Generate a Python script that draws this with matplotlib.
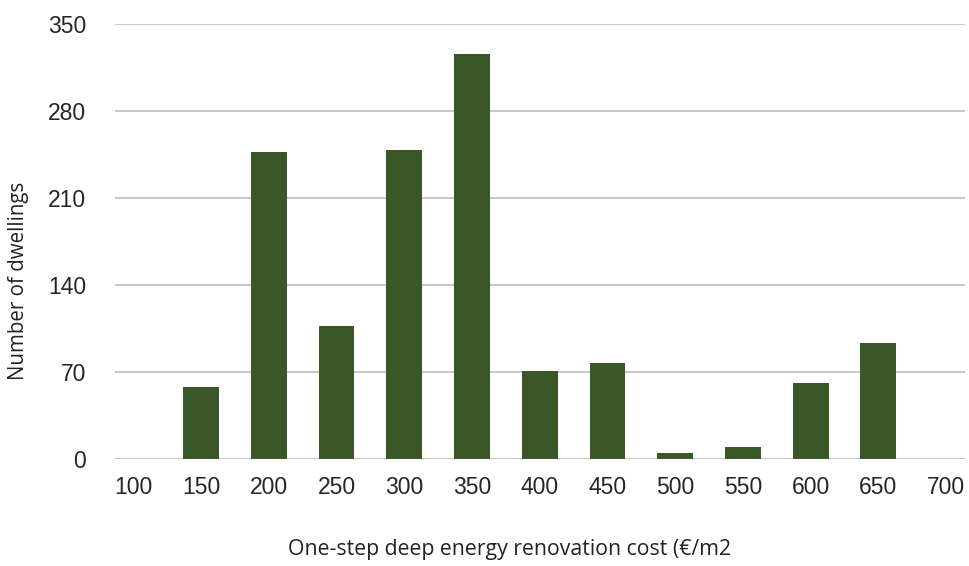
import matplotlib.pyplot as plt

# renovation cost bins (€/m2) and dwelling counts
costs = ['100', '150', '200', '250', '300', '350', '400', '450', '500', '550', '600', '650', '700']
dwellings = [0, 58, 247, 107, 249, 326, 71, 77, 5, 10, 61, 93, 0]
y_ticks = [0, 70, 140, 210, 280, 350]

fig = plt.figure(figsize=(9.7, 5.66), dpi=100)
ax = fig.add_axes([0.1186, 0.189, 0.8764, 0.7686])

x = range(len(costs))
ax.bar(x, dwellings, width=0.53, color='#3a5727', zorder=3)

ax.set_xlim(-0.27, len(costs) - 1 + 0.28)
ax.set_ylim(0, 350)
ax.set_yticks(y_ticks)
ax.set_xticks(list(x))
ax.set_xticklabels(costs)

ax.grid(axis='y', color='#c8c8c8', linewidth=1.5, zorder=0)
for s in ax.spines.values():
    s.set_visible(False)
ax.tick_params(length=0, labelsize=16.5, colors='#262626')
ax.tick_params(axis='y', pad=21)
ax.tick_params(axis='x', pad=12)
plt.setp(ax.get_xticklabels() + ax.get_yticklabels(), family='Liberation Sans')

# axis titles placed like the original (slightly off-centre)
fig.text(510 / 970, 1 - 549 / 566, 'One-step deep energy renovation cost (€/m2',
         fontsize=15.3, family='Open Sans', color='#222222', ha='center', va='center')
fig.text(19 / 970, 1 - 281 / 566, 'Number of dwellings', fontsize=14.8,
         family='Open Sans', color='#222222', rotation=90, ha='center', va='center')

plt.savefig('out.png')
